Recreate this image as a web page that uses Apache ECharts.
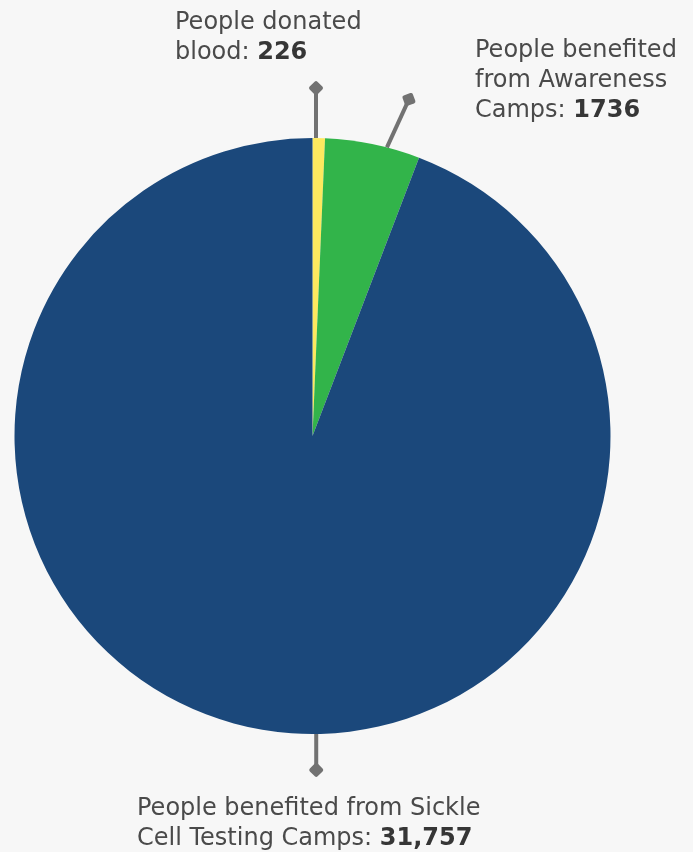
<!DOCTYPE html>
<html>
<head>
<meta charset="utf-8">
<script src="https://cdn.jsdelivr.net/npm/echarts@6/dist/echarts.min.js"></script>
<style>
  html, body { margin: 0; padding: 0; background: #f7f7f7; }
  #chart { width: 693px; height: 852px; }
</style>
</head>
<body>
<div id="chart"></div>
<script>
// Data
const categories = [
  "People donated blood",
  "People benefited from Awareness Camps",
  "People benefited from Sickle Cell Testing Camps",
];
const values = [226, 1736, 31757];
const valueLabels = ["226", "1736", "31,757"];
const labelText = [
  ["People donated", "blood: "],
  ["People benefited", "from Awareness", "Camps: "],
  ["People benefited from Sickle", "Cell Testing Camps: "],
];
const colors = ["#fde95f", "#32b44a", "#1b487b"];

// where each label sits and where its leader line leaves the slice
const labelPos = [[175, 8], [475, 36], [137, 794]];
const leaderAt = [0.28, 0.65, 0.467]; // fraction along the slice arc
const leaderVec = [[0, -50], [22, -48], [0, 36]];

const FONT = "'DejaVu Sans', sans-serif";

const chart = echarts.init(document.getElementById("chart"));

chart.setOption({
  backgroundColor: "#f7f7f7",
  animation: false,
  series: [
    {
      type: "pie",
      center: [312.5, 436],
      radius: 298,
      startAngle: 90,
      clockwise: true,
      avoidLabelOverlap: false,
      data: categories.map((name, i) => ({
        name,
        value: values[i],
        itemStyle: { color: colors[i] },
      })),
      label: {
        show: true,
        fontFamily: FONT,
        fontSize: 24,
        lineHeight: 30,
        color: "#4a4a4a",
        formatter: (p) => {
          const lines = labelText[p.dataIndex];
          return lines.join("\n") + "{b|" + valueLabels[p.dataIndex] + "}";
        },
        rich: {
          b: {
            fontFamily: FONT,
            fontSize: 24,
            lineHeight: 30,
            fontWeight: "bold",
            color: "#363636",
          },
        },
      },
      labelLine: { show: false },
      labelLayout: (params) => ({
        x: labelPos[params.dataIndex][0],
        y: labelPos[params.dataIndex][1],
        align: "left",
        verticalAlign: "top",
      }),
      emphasis: { disabled: true },
    },
  ],
});

// Leader lines with diamond ends, anchored on the pie's own layout
const data = chart.getModel().getSeriesByIndex(0).getData();
const graphics = [];
values.forEach((v, i) => {
  const lay = data.getItemLayout(i);
  const a = lay.startAngle + (lay.endAngle - lay.startAngle) * leaderAt[i];
  const x1 = lay.cx + lay.r * Math.cos(a);
  const y1 = lay.cy + lay.r * Math.sin(a);
  const x2 = x1 + leaderVec[i][0];
  const y2 = y1 + leaderVec[i][1];
  const dir = Math.atan2(-(y2 - y1), x2 - x1);
  graphics.push({
    type: "line",
    shape: { x1, y1, x2, y2 },
    style: { stroke: "#727272", lineWidth: 4 },
    z: 10,
  });
  graphics.push({
    type: "rect",
    x: x2,
    y: y2,
    rotation: dir - Math.PI / 4,
    shape: { x: -5.5, y: -5.5, width: 11, height: 11, r: 2 },
    style: { fill: "#727272" },
    z: 11,
  });
});
chart.setOption({ graphic: graphics });

window.addEventListener("resize", () => chart.resize());
</script>
</body>
</html>
